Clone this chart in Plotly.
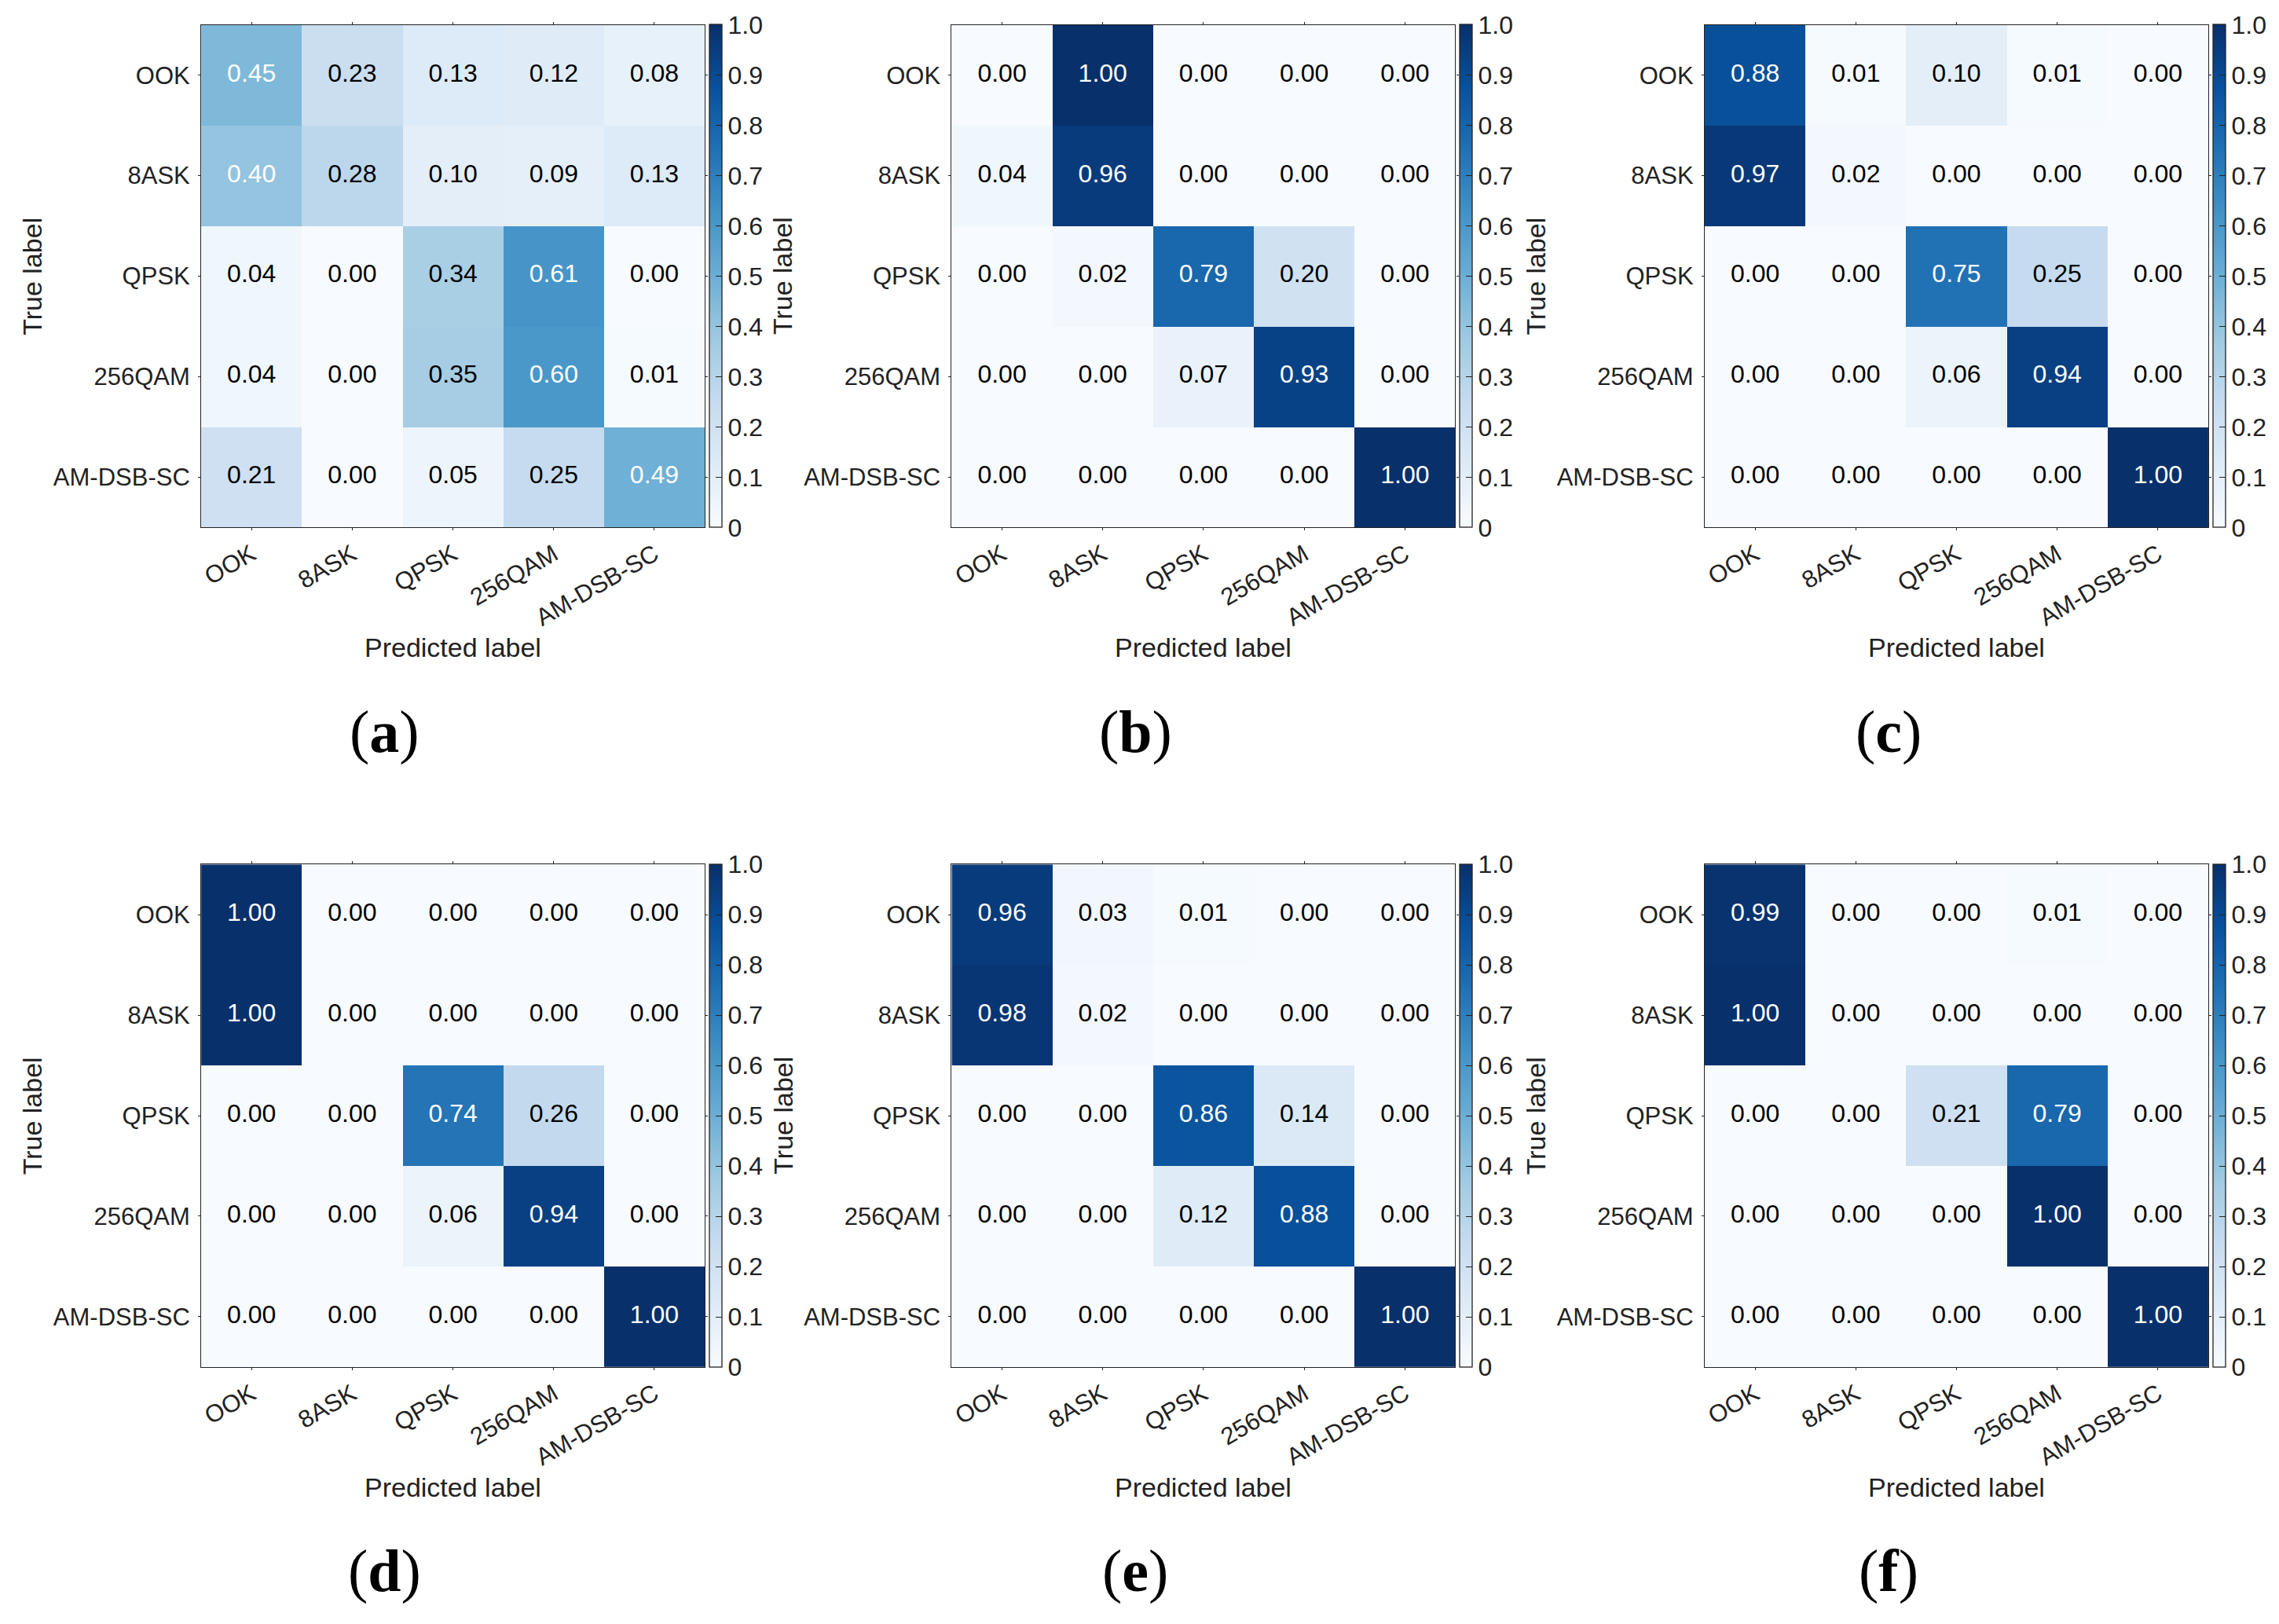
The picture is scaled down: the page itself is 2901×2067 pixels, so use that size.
import plotly.graph_objects as go

# the page body has an 8px default margin; compensate so the figure fits the window
OFF = 8
W, H = 2901 - OFF, 2067 - OFF

classes = ["OOK", "8ASK", "QPSK", "256QAM", "AM-DSB-SC"]

cm_a = [[0.45, 0.23, 0.13, 0.12, 0.08],
        [0.40, 0.28, 0.10, 0.09, 0.13],
        [0.04, 0.00, 0.34, 0.61, 0.00],
        [0.04, 0.00, 0.35, 0.60, 0.01],
        [0.21, 0.00, 0.05, 0.25, 0.49]]
cm_b = [[0.00, 1.00, 0.00, 0.00, 0.00],
        [0.04, 0.96, 0.00, 0.00, 0.00],
        [0.00, 0.02, 0.79, 0.20, 0.00],
        [0.00, 0.00, 0.07, 0.93, 0.00],
        [0.00, 0.00, 0.00, 0.00, 1.00]]
cm_c = [[0.88, 0.01, 0.10, 0.01, 0.00],
        [0.97, 0.02, 0.00, 0.00, 0.00],
        [0.00, 0.00, 0.75, 0.25, 0.00],
        [0.00, 0.00, 0.06, 0.94, 0.00],
        [0.00, 0.00, 0.00, 0.00, 1.00]]
cm_d = [[1.00, 0.00, 0.00, 0.00, 0.00],
        [1.00, 0.00, 0.00, 0.00, 0.00],
        [0.00, 0.00, 0.74, 0.26, 0.00],
        [0.00, 0.00, 0.06, 0.94, 0.00],
        [0.00, 0.00, 0.00, 0.00, 1.00]]
cm_e = [[0.96, 0.03, 0.01, 0.00, 0.00],
        [0.98, 0.02, 0.00, 0.00, 0.00],
        [0.00, 0.00, 0.86, 0.14, 0.00],
        [0.00, 0.00, 0.12, 0.88, 0.00],
        [0.00, 0.00, 0.00, 0.00, 1.00]]
cm_f = [[0.99, 0.00, 0.00, 0.01, 0.00],
        [1.00, 0.00, 0.00, 0.00, 0.00],
        [0.00, 0.00, 0.21, 0.79, 0.00],
        [0.00, 0.00, 0.00, 1.00, 0.00],
        [0.00, 0.00, 0.00, 0.00, 1.00]]

panel_labels = ["a", "b", "c", "d", "e", "f"]
matrices = [cm_a, cm_b, cm_c, cm_d, cm_e, cm_f]

cbar_tickvals = [0, 0.1, 0.2, 0.3, 0.4, 0.5, 0.6, 0.7, 0.8, 0.9, 1.0]
cbar_ticktext = ["0", "0.1", "0.2", "0.3", "0.4", "0.5", "0.6", "0.7", "0.8", "0.9", "1.0"]

blues = [[0.0, "rgb(247,251,255)"], [0.125, "rgb(222,235,247)"],
         [0.25, "rgb(198,219,239)"], [0.375, "rgb(158,202,225)"],
         [0.5, "rgb(107,174,214)"], [0.625, "rgb(66,146,198)"],
         [0.75, "rgb(33,113,181)"], [0.875, "rgb(8,81,156)"],
         [1.0, "rgb(8,48,107)"]]

# layout geometry in pixels (window coordinates)
col_left = [254.3, 1210.3, 2169.5]
row_top = [31.7, 1100.3]
cell_w = 641.4
cell_h = 639.5
ytitle_off = 215
xtitle_off = 153
plabel_off = 260
plabel_dx = -87

TXT = "#222222"
FONT = "Liberation Sans"


def px(xw):
    return (xw - OFF) / W


def py(yw):
    return 1 - (yw - OFF) / H


fig = go.Figure()
annotations = []

for i, (cm, lab) in enumerate(zip(matrices, panel_labels)):
    r, c = divmod(i, 3)
    x0 = col_left[c]
    x1 = x0 + cell_w
    y0 = row_top[r]
    y1 = y0 + cell_h
    ax = "" if i == 0 else str(i + 1)
    xa, ya = "x" + ax, "y" + ax

    fig.add_trace(go.Heatmap(
        z=cm, x=classes, y=classes, xaxis=xa, yaxis=ya,
        colorscale=blues, zmin=0, zmax=1, hoverinfo="skip",
        showscale=True,
        colorbar=dict(
            x=px(x1 + 5.6), xanchor="left", xpad=0,
            y=py((y0 + y1) / 2), yanchor="middle", ypad=0,
            lenmode="pixels", len=cell_h,
            thicknessmode="pixels", thickness=16.4,
            outlinewidth=1.3, outlinecolor=TXT,
            ticks="inside", ticklen=8, tickwidth=1.3, tickcolor=TXT,
            tickvals=cbar_tickvals, ticktext=cbar_ticktext,
            tickfont=dict(family=FONT, size=32, color=TXT),
        ),
    ))

    xs, ys, txt, cols = [], [], [], []
    for ri, tl in enumerate(classes):
        for ci, pl in enumerate(classes):
            v = cm[ri][ci]
            xs.append(pl)
            ys.append(tl)
            txt.append(f"{v:.2f}")
            cols.append("white" if v >= 0.38 else "black")
    fig.add_trace(go.Scatter(
        x=xs, y=ys, text=txt, mode="text", xaxis=xa, yaxis=ya,
        textfont=dict(family=FONT, size=32, color=cols),
        hoverinfo="skip", showlegend=False,
    ))

    axis_common = dict(
        type="category", showline=True, linecolor=TXT, linewidth=1.3,
        mirror="ticks", ticks="outside", ticklen=3, tickcolor=TXT,
        tickwidth=1.3, showgrid=False, zeroline=False,
        tickfont=dict(family=FONT, size=31, color=TXT),
    )
    fig.update_layout(**{
        "xaxis" + ax: dict(axis_common, domain=[px(x0), px(x1)], anchor=ya,
                           range=[-0.5, 4.5], tickangle=-30,
                           categoryorder="array", categoryarray=classes),
        "yaxis" + ax: dict(axis_common, domain=[py(y1), py(y0)],
                           anchor=xa, range=[4.5, -0.5],
                           categoryorder="array", categoryarray=classes,
                           ticklabelstandoff=4),
    })

    annotations.append(dict(
        text="True label", textangle=-90, xref="paper", yref="paper",
        x=px(x0 - ytitle_off), y=py((y0 + y1) / 2),
        xanchor="center", yanchor="middle", showarrow=False,
        font=dict(family=FONT, size=34, color=TXT)))
    annotations.append(dict(
        text="Predicted label", xref="paper", yref="paper",
        x=px((x0 + x1) / 2), y=py(y1 + xtitle_off),
        xanchor="center", yanchor="middle", showarrow=False,
        font=dict(family=FONT, size=34, color=TXT)))
    annotations.append(dict(
        text=f"(<b>{lab}</b>)", xref="paper", yref="paper",
        x=px((x0 + x1) / 2 + plabel_dx), y=py(y1 + plabel_off),
        xanchor="center", yanchor="middle", showarrow=False,
        font=dict(family="Liberation Serif", size=76, color="black")))

fig.update_layout(
    width=W, height=H, margin=dict(l=0, r=0, t=0, b=0),
    paper_bgcolor="white", plot_bgcolor="white",
    showlegend=False, annotations=annotations,
)

fig.write_html("out.html")
